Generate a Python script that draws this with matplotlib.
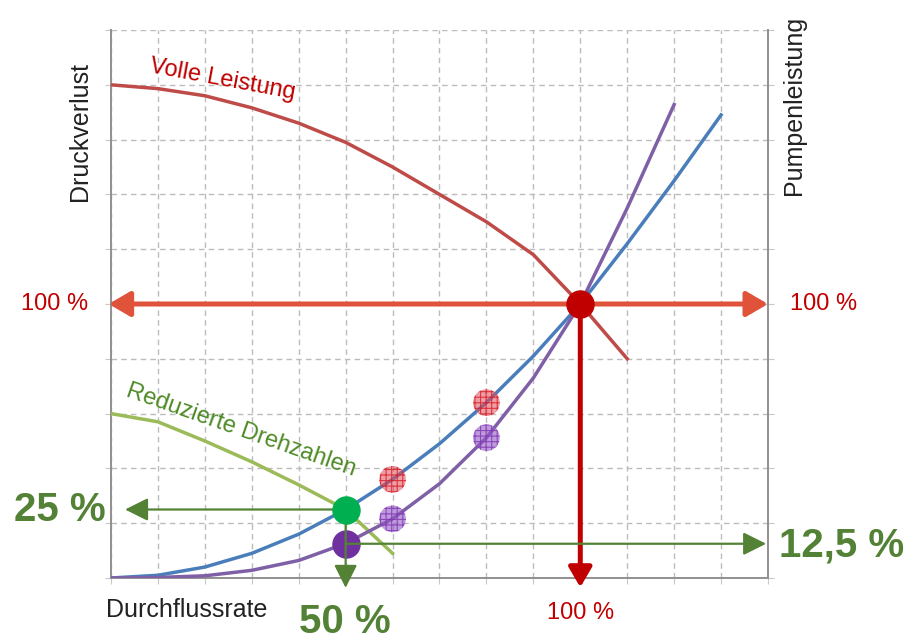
import matplotlib
matplotlib.use("Agg")
import matplotlib.pyplot as plt

plt.rcParams['font.family'] = ['Liberation Sans', 'DejaVu Sans']
plt.rcParams['hatch.linewidth'] = 0.8

# Anlagenkennlinie (Druckverlust) und Pumpenleistung ueber der Durchflussrate
x_druck = [0, 1, 2, 3, 4, 5, 6, 7, 8, 9, 10, 11, 12, 13]
druckverlust = [0, 0.05, 0.2, 0.45, 0.8, 1.25, 1.8, 2.45, 3.2, 4.05, 5.0, 6.1, 7.25, 8.45]

x_leistung = [0, 1, 2, 3, 4, 5, 6, 7, 8, 9, 10, 11, 12]
leistung = [0, 0.01, 0.04, 0.14, 0.32, 0.63, 1.08, 1.72, 2.56, 3.65, 5.0, 6.75, 8.64]

# Pumpenkennlinien
x_voll = [0, 1, 2, 3, 4, 5, 6, 7, 8, 9, 10, 11]
volle_leistung = [9.0, 8.93, 8.8, 8.58, 8.3, 7.95, 7.5, 7.0, 6.5, 5.9, 5.0, 4.0]

x_reduziert = [0, 1, 2, 3, 4, 5, 6]
reduzierte_drehzahl = [3.0, 2.85, 2.5, 2.12, 1.7, 1.25, 0.45]

# Betriebspunkte
punkt_voll = (10, 5.0)
punkt_druck_50 = (5, 1.25)
punkt_leistung_50 = (5, 0.625)
zwischen_x = [6, 8]
zwischen_druck = [1.8, 3.2]
zwischen_leistung = [1.08, 2.56]

fig = plt.figure(figsize=(9.12, 6.44), dpi=100)
ax = fig.add_axes([111/912, 66/644, 657/912, 548/644])
ax.set_xlim(0, 14)
ax.set_ylim(0, 10)
ax.set_xticks(range(15))
ax.set_yticks(range(11))
ax.set_xticklabels([])
ax.set_yticklabels([])
ax.grid(True, color='#bcbcbc', linestyle=(0, (4, 3)), linewidth=1.0)
ax.tick_params(axis='both', direction='out', length=4, color='#c8c8c8', right=True)
ax.spines['top'].set_visible(False)
for s in ['left', 'bottom', 'right']:
    ax.spines[s].set_color('#909090')
    ax.spines[s].set_linewidth(1.4)
ax.set_axisbelow(True)

ax.plot(x_voll, volle_leistung, color='#be4b48', lw=2.5, zorder=3)
ax.plot(x_reduziert, reduzierte_drehzahl, color='#9bbb59', lw=2.5, zorder=3)
ax.plot(x_druck, druckverlust, color='#4a7ebb', lw=2.5, zorder=3)
ax.plot(x_leistung, leistung, color='#7f60a6', lw=2.5, zorder=3)

# Pfeile fuer 100 %
ax.annotate('', xy=(-0.05, 5), xytext=(14, 5), annotation_clip=False,
            arrowprops=dict(arrowstyle='<|-|>,head_length=0.65,head_width=0.38',
                            mutation_scale=20, color='#e0533a', lw=3.6,
                            shrinkA=0, shrinkB=0), zorder=4)
ax.annotate('', xy=(10, -0.17), xytext=punkt_voll, annotation_clip=False,
            arrowprops=dict(arrowstyle='-|>,head_length=0.6,head_width=0.35',
                            mutation_scale=20, color='#c00000', lw=3.6,
                            shrinkA=0, shrinkB=0), zorder=4)

# Pfeile fuer 50 %
gruen = '#548235'
pfeil_gruen = dict(arrowstyle='-|>,head_length=0.7,head_width=0.35',
                   mutation_scale=20, color=gruen, lw=1.6, shrinkA=0, shrinkB=0)
ax.annotate('', xy=(0.3, 1.25), xytext=punkt_druck_50, annotation_clip=False,
            arrowprops=pfeil_gruen, zorder=6)
ax.annotate('', xy=(5, -0.18), xytext=punkt_druck_50, annotation_clip=False,
            arrowprops=pfeil_gruen, zorder=6)
ax.annotate('', xy=(13.96, 0.625), xytext=punkt_leistung_50, annotation_clip=False,
            arrowprops=pfeil_gruen, zorder=6)

# Punkte
ax.scatter(zwischen_x, zwischen_druck, s=370, facecolor=(0.88, 0.3, 0.35, 0.55),
           edgecolor=(0.85, 0.1, 0.15, 0.8), linewidth=0, hatch='+++', zorder=5)
ax.scatter(zwischen_x, zwischen_leistung, s=370, facecolor=(0.58, 0.35, 0.78, 0.6),
           edgecolor=(0.5, 0.2, 0.7, 0.8), linewidth=0, hatch='+++', zorder=5)
ax.scatter(*punkt_leistung_50, s=380, color='#7030a0', zorder=5.5, clip_on=False)
ax.scatter(*punkt_druck_50, s=380, color='#00b050', zorder=7)
ax.scatter(*punkt_voll, s=380, color='#c00000', zorder=7)

# Beschriftungen
ax.text(-0.66, 8.14, 'Druckverlust', rotation=90, ha='center', va='center',
        fontsize=18, color='#222222', clip_on=False)
ax.text(14.55, 8.63, 'Pumpenleistung', rotation=90, ha='center', va='center',
        fontsize=18, color='#222222', clip_on=False)
ax.text(1.62, -0.58, 'Durchflussrate', ha='center', va='center',
        fontsize=18, color='#222222', clip_on=False)
ax.text(2.38, 9.09, 'Volle Leistung', rotation=-10.5, rotation_mode='anchor',
        ha='center', va='center', fontsize=17, color='#c00000')
ax.text(2.77, 2.70, 'Reduzierte Drehzahlen', rotation=-19.3, rotation_mode='anchor',
        ha='center', va='center', fontsize=17, color='#4e8a26')

for tx, ty in [(-1.21, 5), (15.19, 5), (10, -0.64)]:
    ax.text(tx, ty, '100 %', ha='center', va='center', fontsize=17,
            color='#c00000', clip_on=False)

gross = dict(fontweight='bold', fontsize=29, color='#538135',
             ha='center', va='center', clip_on=False)
ax.text(-1.09, 1.24, '25 %', **gross)
ax.text(15.57, 0.6, '12,5 %', **gross)
ax.text(4.98, -0.80, '50 %', **gross)

fig.savefig('out.png', dpi=100)
